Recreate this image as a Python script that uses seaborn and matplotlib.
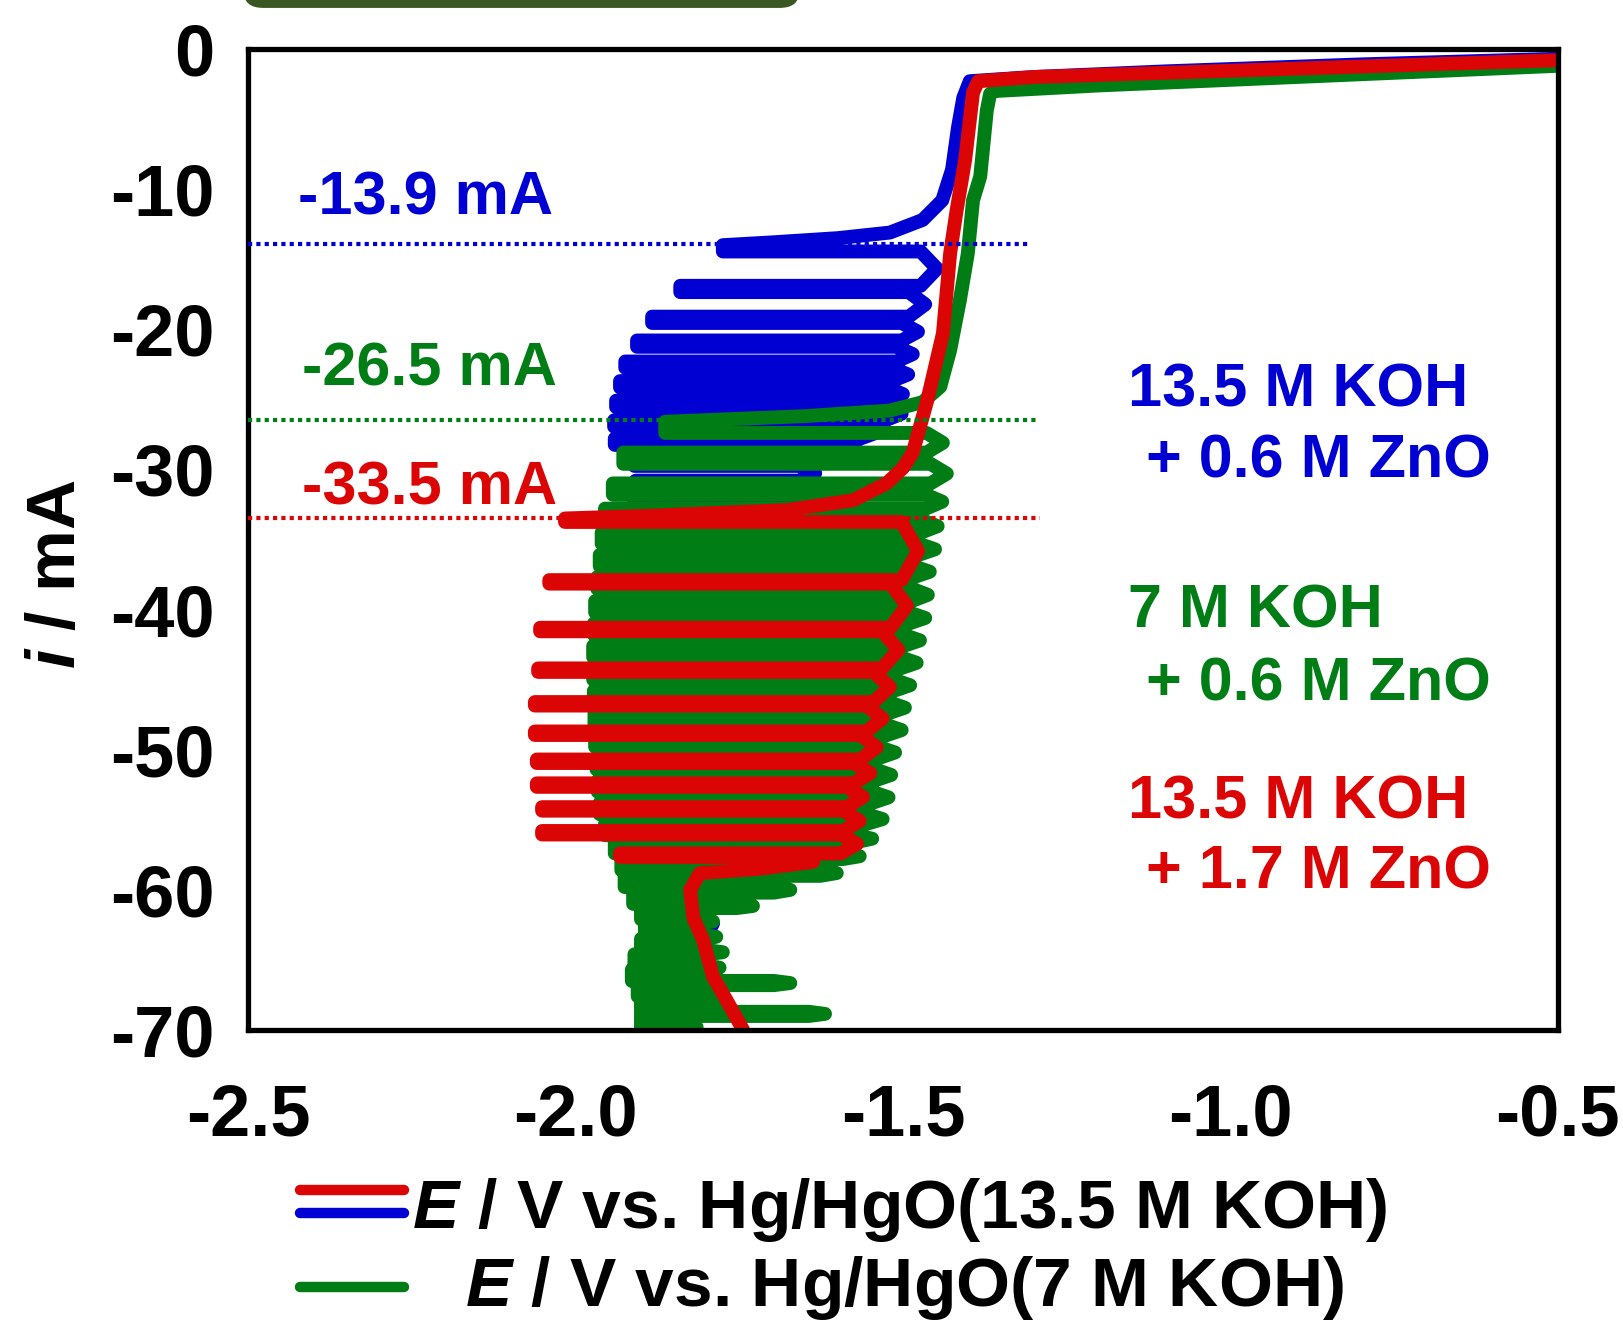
import pandas as pd
import seaborn as sns
import matplotlib.pyplot as plt
from matplotlib.lines import Line2D
from matplotlib.patches import FancyBboxPatch

# ---- data (E in V, i in mA) ----
# red: 13.5 M KOH + 1.7 M ZnO
red_lead_e = [-0.50, -0.70, -0.90, -1.10, -1.30, -1.385, -1.393, -1.405, -1.418, -1.428,
              -1.439, -1.463, -1.485, -1.500, -1.525, -1.576, -1.677, -1.882]
red_lead_i = [-0.8, -1.1, -1.4, -1.7, -2.0, -2.3, -3.1, -7.9, -11.5, -14.6,
              -20.3, -25.1, -28.8, -29.9, -31.0, -32.2, -32.9, -33.3]
red_band_i = [-33.5, -37.9, -41.3, -44.2, -46.6, -48.7, -50.7, -52.4, -54.1, -55.8, -57.4]
red_band_left = [-2.016, -2.040, -2.054, -2.057, -2.062, -2.062, -2.059, -2.059, -2.051, -2.051, -1.932]
red_band_right = [-1.477, -1.494, -1.507, -1.520, -1.531, -1.540, -1.550, -1.561, -1.566, -1.570, -1.612]
red_tail_e = [-1.637, -1.72, -1.81, -1.825, -1.82, -1.805, -1.79, -1.769, -1.744]
red_tail_i = [-58.0, -58.5, -58.8, -60.0, -62.0, -63.6, -66.2, -67.9, -70.0]

# green: 7 M KOH + 0.6 M ZnO
green_lead_e = [-0.50, -0.75, -1.00, -1.20, -1.36, -1.367, -1.372, -1.382, -1.393, -1.401,
                -1.413, -1.428, -1.443, -1.47, -1.52, -1.65]
green_lead_i = [-1.2, -1.7, -2.2, -2.6, -3.0, -3.2, -4.4, -9.1, -10.8, -14.6,
                -17.9, -21.5, -24.1, -25.2, -25.8, -26.2]
green_band_i = [-26.6, -28.8, -31.0, -32.8, -34.5, -36.1, -37.7, -39.4, -41.0, -42.6,
                -44.2, -45.8, -47.4, -49.0, -50.6, -52.2, -53.8, -55.3, -56.6, -57.8,
                -59.0, -60.2, -61.3, -62.4, -63.5, -64.6, -65.7, -66.8, -67.9, -69.0]
green_band_left = [-1.863, -1.927, -1.943, -1.955, -1.960, -1.963, -1.967, -1.970, -1.972, -1.973,
                   -1.973, -1.972, -1.971, -1.970, -1.968, -1.966, -1.963, -1.955, -1.940, -1.930,
                   -1.925, -1.912, -1.900, -1.894, -1.900, -1.910, -1.914, -1.905, -1.900, -1.900]
green_band_right = [-1.439, -1.433, -1.440, -1.447, -1.451, -1.459, -1.462, -1.466, -1.474, -1.479,
                    -1.489, -1.497, -1.502, -1.512, -1.518, -1.522, -1.531, -1.547, -1.566, -1.601,
                    -1.672, -1.729, -1.790, -1.785, -1.775, -1.780, -1.672, -1.780, -1.619, -1.790]
green_tail_e = [-1.86, -1.88]
green_tail_i = [-69.6, -70.4]

# blue: 13.5 M KOH + 0.6 M ZnO
blue_lead_e = [-0.50, -0.80, -1.10, -1.30, -1.398, -1.408, -1.416, -1.425, -1.440, -1.470,
               -1.520, -1.600, -1.700]
blue_lead_i = [-0.7, -1.1, -1.6, -2.0, -2.3, -3.5, -5.6, -8.6, -10.8, -12.2,
               -13.1, -13.5, -13.8]
blue_band_i = [-14.0, -16.9, -19.1, -20.8, -22.3, -23.7, -25.1, -26.5, -27.8, -29.3,
               -30.8, -32.1, -33.7, -35.2, -36.6, -38.5, -40.5]
blue_band_left = [-1.775, -1.840, -1.883, -1.906, -1.924, -1.932, -1.938, -1.941, -1.940, -1.910,
                  -1.908, -1.910, -1.920, -1.920, -1.914, -1.900, -1.890]
blue_band_right = [-1.448, -1.466, -1.477, -1.485, -1.492, -1.500, -1.502, -1.540, -1.566, -1.634,
                   -1.640, -1.622, -1.700, -1.592, -1.592, -1.700, -1.730]
blue_tail_e = [-1.84, -1.85, -1.84, -1.81, -1.79, -1.83, -1.84, -1.82]
blue_tail_i = [-45.0, -52.0, -58.0, -61.5, -62.4, -66.0, -69.0, -70.3]

# onset currents (dotted lines)
onset_i = [-13.9, -26.5, -33.5]
onset_end_e = [-1.306, -1.294, -1.290]
onset_labels = ["-13.9 mA", "-26.5 mA", "-33.5 mA"]

x_ticks = [-2.5, -2.0, -1.5, -1.0, -0.5]
y_ticks = [0, -10, -20, -30, -40, -50, -60, -70]

BLUE = "#0000d2"
GREEN = "#007d14"
RED = "#dc0505"


def build_path(lead_e, lead_i, band_i, band_left, band_right, tail_e, tail_i, spread, inset=0.025):
    # sweep left to each oscillation tip and back, turning round at the right
    e, i = list(lead_e), list(lead_i)
    n = len(band_i)
    for k in range(n):
        if k > 0:
            e.append(band_right[k - 1] - inset)
            i.append(band_i[k])
        e += [band_left[k], band_left[k], band_right[k] - inset]
        i += [band_i[k], band_i[k] - spread, band_i[k] - spread]
        if k < n - 1:
            e.append(band_right[k])
            i.append((band_i[k] - spread + band_i[k + 1]) / 2)
    e += list(tail_e)
    i += list(tail_i)
    return pd.DataFrame({"E": e, "I": i})


df_blue = build_path(blue_lead_e, blue_lead_i, blue_band_i, blue_band_left, blue_band_right,
                     blue_tail_e, blue_tail_i, spread=0.45)
df_green = build_path(green_lead_e, green_lead_i, green_band_i, green_band_left, green_band_right,
                      green_tail_e, green_tail_i, spread=0.8)
df_red = build_path(red_lead_e, red_lead_i, red_band_i, red_band_left, red_band_right,
                    red_tail_e, red_tail_i, spread=0.25)

sns.set_style("white")
plt.rcParams["font.family"] = ["Liberation Sans", "DejaVu Sans"]
plt.rcParams["font.weight"] = "bold"
plt.rcParams["text.color"] = "black"
plt.rcParams["xtick.color"] = "black"
plt.rcParams["ytick.color"] = "black"
plt.rcParams["axes.unicode_minus"] = False
plt.rcParams["mathtext.fontset"] = "custom"
plt.rcParams["mathtext.it"] = "Liberation Sans:italic:bold"
plt.rcParams["mathtext.rm"] = "Liberation Sans:bold"

fig = plt.figure(figsize=(16.23, 13.2), dpi=100)
ax = fig.add_axes([0.1528, 0.2197, 0.8071, 0.7432])

for df, col in [(df_blue, BLUE), (df_green, GREEN), (df_red, RED)]:
    sns.lineplot(data=df, x="E", y="I", sort=False, estimator=None, color=col,
                 linewidth=10, legend=False, ax=ax,
                 solid_joinstyle="round", solid_capstyle="round")

for yv, xe, col in zip(onset_i, onset_end_e, [BLUE, GREEN, RED]):
    ax.plot([-2.5, xe], [yv, yv], color=col, linewidth=3, linestyle=(0, (1, 1)), zorder=5)

ax.text(-2.424, -11.8, onset_labels[0], color=BLUE, fontsize=44, fontweight="bold", va="baseline")
ax.text(-2.418, -24.0, onset_labels[1], color=GREEN, fontsize=44, fontweight="bold", va="baseline")
ax.text(-2.418, -32.5, onset_labels[2], color=RED, fontsize=44, fontweight="bold", va="baseline")

cond = [("13.5 M KOH", "+ 0.6 M ZnO", BLUE, -25.5, -30.6),
        ("7 M KOH", "+ 0.6 M ZnO", GREEN, -41.3, -46.5),
        ("13.5 M KOH", "+ 1.7 M ZnO", RED, -54.9, -59.9)]
for l1, l2, col, y1, y2 in cond:
    ax.text(-1.156, y1, l1, color=col, fontsize=44, fontweight="bold", va="baseline")
    ax.text(-1.129, y2, l2, color=col, fontsize=44, fontweight="bold", va="baseline")

ax.set_xlim(-2.5, -0.5)
ax.set_ylim(-70, 0)
ax.set_xticks(x_ticks)
ax.set_xticklabels([f"{v:.1f}" for v in x_ticks])
ax.set_yticks(y_ticks)
ax.set_yticklabels([str(v) for v in y_ticks])
ax.tick_params(direction="in", length=18, width=3.6, labelsize=52, colors="black")
ax.tick_params(axis="x", pad=38)
ax.tick_params(axis="y", pad=24)
for lab in ax.get_xticklabels() + ax.get_yticklabels():
    lab.set_fontweight("bold")
for s in ax.spines.values():
    s.set_linewidth(3.8)
    s.set_color("black")
ax.set_xlabel("")
ax.set_ylabel("")

fig.text(0.0351, 0.565, r"$\it{i}$ / mA", rotation=90, fontsize=50, fontweight="bold",
         ha="center", va="center")

# legend drawn under the axis
fig.add_artist(Line2D([0.1848, 0.2489], [0.0985, 0.0985], color=RED, linewidth=7.5))
fig.add_artist(Line2D([0.1848, 0.2489], [0.0811, 0.0811], color=BLUE, linewidth=7.5))
fig.add_artist(Line2D([0.1848, 0.2489], [0.0250, 0.0250], color=GREEN, linewidth=7.5))
fig.text(0.5545, 0.0697, r"$\it{E}$ / V vs. Hg/HgO(13.5 M KOH)", fontsize=50,
         fontweight="bold", ha="center", va="baseline")
fig.text(0.5575, 0.0106, r"$\it{E}$ / V vs. Hg/HgO(7 M KOH)", fontsize=50,
         fontweight="bold", ha="center", va="baseline")

# cut-off box at the very top of the panel
fig.add_artist(FancyBboxPatch((0.1503, 0.9940), 0.342, 0.06, boxstyle="round,pad=0,rounding_size=0.012",
                              transform=fig.transFigure, facecolor="#3a5622", edgecolor="none"))

fig.savefig("out.png", dpi=100)
